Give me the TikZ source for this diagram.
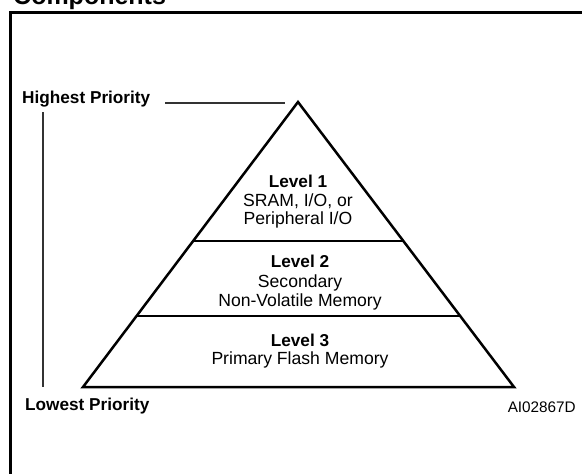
\documentclass[tikz,border=0pt]{standalone}
\usepackage{fontspec}
\setmainfont{Liberation Sans}
\usetikzlibrary{calc}
\begin{document}
\begin{tikzpicture}[x=1pt,y=-1pt,
  boldlbl/.style={font=\fontsize{17.2}{19}\selectfont\bfseries, anchor=base, inner sep=0pt},
  reglbl/.style={font=\fontsize{17.6}{19}\selectfont, anchor=base, inner sep=0pt},
  titlelbl/.style={font=\fontsize{25}{28}\selectfont\bfseries, anchor=base west, inner sep=0pt},
  codelbl/.style={font=\fontsize{15.3}{17}\selectfont, anchor=base east, inner sep=0pt},
  frameline/.style={line width=3pt},
  triline/.style={line width=2.5pt, line join=miter},
  divline/.style={line width=1.6pt},
  leadline/.style={line width=1.5pt, draw=black!80}]
\useasboundingbox (0,0) rectangle (582,474);
% title and frame
\node[titlelbl] (title) at (13,4) {Components};
\coordinate (ftr) at (600,12.5);
\coordinate (ftl) at (10.5,12.5);
\coordinate (fbl) at (10.5,490);
\draw[frameline] (ftr) -- (ftl) -- (fbl);
% pyramid
\coordinate (apex) at (298,102);
\coordinate (bl) at (83,387);
\coordinate (br) at (514,387);
\coordinate (d1l) at ($(apex)!0.488!(bl)$);
\coordinate (d1r) at ($(apex)!0.488!(br)$);
\coordinate (d2l) at ($(apex)!0.751!(bl)$);
\coordinate (d2r) at ($(apex)!0.751!(br)$);
\draw[divline] (d1l) -- (d1r);
\draw[divline] (d2l) -- (d2r);
\draw[triline] (apex) -- (bl) -- (br) -- cycle;
% level texts
\node[boldlbl] (l1a) at (298,187) {Level 1};
\node[reglbl] (l1b) at (298,206) {SRAM, I/O, or};
\node[reglbl] (l1c) at (298,224) {Peripheral I/O};
\node[boldlbl] (l2a) at (300,267) {Level 2};
\node[reglbl] (l2b) at (300,287) {Secondary};
\node[reglbl] (l2c) at (300,306) {Non-Volatile Memory};
\node[boldlbl] (l3a) at (300,346) {Level 3};
\node[reglbl] (l3b) at (300,364) {Primary Flash Memory};
% priority labels
\node[boldlbl, anchor=base west] (hp) at (22,103) {Highest Priority};
\coordinate (hpe) at (285,103);
\draw[leadline] ([xshift=15pt]hp.base east) -- (hpe);
\coordinate (vt) at (43,112);
\coordinate (vb) at (43,387);
\draw[leadline] (vt) -- (vb);
\node[boldlbl, anchor=base west] (lp) at (25,410) {Lowest Priority};
\node[codelbl] (code) at (576,412) {AI02867D};
\end{tikzpicture}
\end{document}
